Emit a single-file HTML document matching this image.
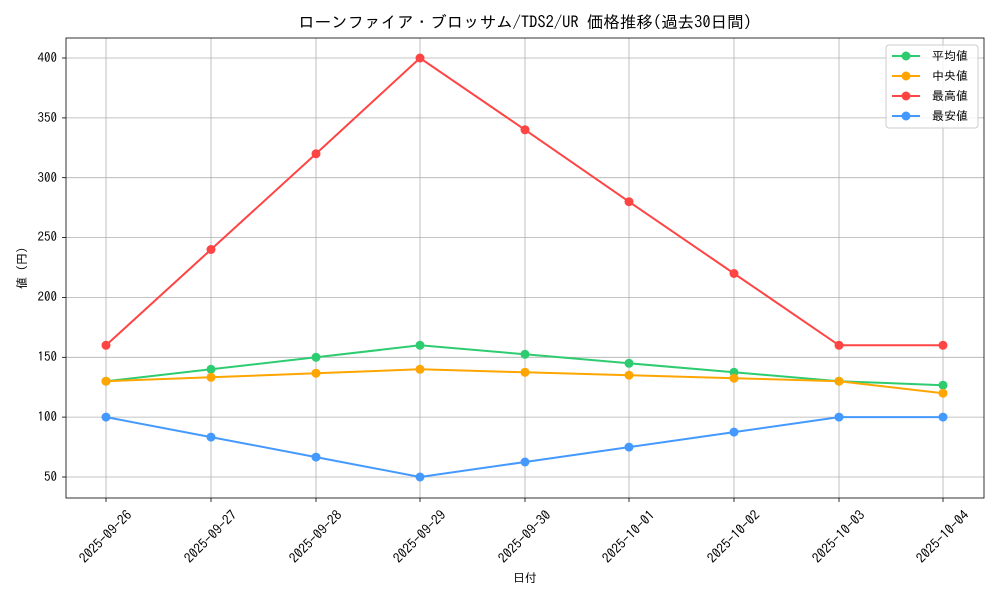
<!DOCTYPE html>
<html><head><meta charset="utf-8"><style>body{margin:0;background:#fff}svg{display:block;font-family:"IPAGothic","Liberation Sans","Noto Sans CJK JP",sans-serif}</style></head><body>
<svg width="1000" height="600" viewBox="0 0 1000 600">
<rect width="1000" height="600" fill="#fff"/>
<g stroke="#b0b0b0" stroke-width="0.8">
<line x1="106" y1="38" x2="106" y2="498"/><line x1="211" y1="38" x2="211" y2="498"/><line x1="316" y1="38" x2="316" y2="498"/><line x1="420" y1="38" x2="420" y2="498"/><line x1="525" y1="38" x2="525" y2="498"/><line x1="629" y1="38" x2="629" y2="498"/><line x1="734" y1="38" x2="734" y2="498"/><line x1="839" y1="38" x2="839" y2="498"/><line x1="943" y1="38" x2="943" y2="498"/>
<line x1="66" y1="477" x2="984" y2="477"/><line x1="66" y1="417.1" x2="984" y2="417.1"/><line x1="66" y1="357.3" x2="984" y2="357.3"/><line x1="66" y1="297.4" x2="984" y2="297.4"/><line x1="66" y1="237.6" x2="984" y2="237.6"/><line x1="66" y1="177.7" x2="984" y2="177.7"/><line x1="66" y1="117.9" x2="984" y2="117.9"/><line x1="66" y1="58" x2="984" y2="58"/>
</g>
<g stroke="#000" stroke-width="0.8">
<line x1="106" y1="498" x2="106" y2="502"/><line x1="211" y1="498" x2="211" y2="502"/><line x1="316" y1="498" x2="316" y2="502"/><line x1="420" y1="498" x2="420" y2="502"/><line x1="525" y1="498" x2="525" y2="502"/><line x1="629" y1="498" x2="629" y2="502"/><line x1="734" y1="498" x2="734" y2="502"/><line x1="839" y1="498" x2="839" y2="502"/><line x1="943" y1="498" x2="943" y2="502"/>
<line x1="62" y1="477" x2="66" y2="477"/><line x1="62" y1="417.1" x2="66" y2="417.1"/><line x1="62" y1="357.3" x2="66" y2="357.3"/><line x1="62" y1="297.4" x2="66" y2="297.4"/><line x1="62" y1="237.6" x2="66" y2="237.6"/><line x1="62" y1="177.7" x2="66" y2="177.7"/><line x1="62" y1="117.9" x2="66" y2="117.9"/><line x1="62" y1="58" x2="66" y2="58"/>
</g>
<g font-size="13" text-anchor="end" fill="#000">
<text x="57" y="481">50</text><text x="57" y="421">100</text><text x="57" y="361">150</text><text x="57" y="301">200</text><text x="57" y="241">250</text><text x="57" y="182">300</text><text x="57" y="122">350</text><text x="57" y="62">400</text>
</g>
<g font-size="13.5" text-anchor="middle" fill="#000">
<text transform="translate(106,537) rotate(-45)" y="4">2025-09-26</text>
<text transform="translate(211,537) rotate(-45)" y="4">2025-09-27</text>
<text transform="translate(316,537) rotate(-45)" y="4">2025-09-28</text>
<text transform="translate(420,537) rotate(-45)" y="4">2025-09-29</text>
<text transform="translate(525,537) rotate(-45)" y="4">2025-09-30</text>
<text transform="translate(629,537) rotate(-45)" y="4">2025-10-01</text>
<text transform="translate(734,537) rotate(-45)" y="4">2025-10-02</text>
<text transform="translate(839,537) rotate(-45)" y="4">2025-10-03</text>
<text transform="translate(943,537) rotate(-45)" y="4">2025-10-04</text>
</g>
<text x="525" y="582" font-size="12" text-anchor="middle">日付</text>
<text transform="translate(26,268) rotate(-90)" font-size="12" text-anchor="middle">値 (円)</text>
<text x="525" y="28" font-size="16.5" text-anchor="middle">ローンファイア・ブロッサム/TDS2/UR 価格推移(過去30日間)</text>
<g fill="none" stroke-width="2">
<polyline stroke="#2ecc71" points="106,381.2 211,369.3 316,357.3 420,345.3 525,354.3 629,363.3 734,372.3 839,381.2 943,385.2"/>
<polyline stroke="#ffa500" points="106,381.2 211,377.3 316,373.2 420,369.3 525,372.3 629,375.2 734,378.2 839,381.2 943,393.2"/>
<polyline stroke="#ff4444" points="106,345.3 211,249.5 316,153.8 420,58 525,129.8 629,201.7 734,273.5 839,345.3 943,345.3"/>
<polyline stroke="#4499ff" points="106,417.1 211,437.1 316,457.1 420,477 525,462 629,447.1 734,432.1 839,417.1 943,417.1"/>
</g>
<g fill="#2ecc71"><circle cx="106" cy="381.2" r="4.5"/><circle cx="211" cy="369.3" r="4.5"/><circle cx="316" cy="357.3" r="4.5"/><circle cx="420" cy="345.3" r="4.5"/><circle cx="525" cy="354.3" r="4.5"/><circle cx="629" cy="363.3" r="4.5"/><circle cx="734" cy="372.3" r="4.5"/><circle cx="839" cy="381.2" r="4.5"/><circle cx="943" cy="385.2" r="4.5"/></g>
<g fill="#ffa500"><circle cx="106" cy="381.2" r="4.5"/><circle cx="211" cy="377.3" r="4.5"/><circle cx="316" cy="373.2" r="4.5"/><circle cx="420" cy="369.3" r="4.5"/><circle cx="525" cy="372.3" r="4.5"/><circle cx="629" cy="375.2" r="4.5"/><circle cx="734" cy="378.2" r="4.5"/><circle cx="839" cy="381.2" r="4.5"/><circle cx="943" cy="393.2" r="4.5"/></g>
<g fill="#ff4444"><circle cx="106" cy="345.3" r="4.5"/><circle cx="211" cy="249.5" r="4.5"/><circle cx="316" cy="153.8" r="4.5"/><circle cx="420" cy="58" r="4.5"/><circle cx="525" cy="129.8" r="4.5"/><circle cx="629" cy="201.7" r="4.5"/><circle cx="734" cy="273.5" r="4.5"/><circle cx="839" cy="345.3" r="4.5"/><circle cx="943" cy="345.3" r="4.5"/></g>
<g fill="#4499ff"><circle cx="106" cy="417.1" r="4.5"/><circle cx="211" cy="437.1" r="4.5"/><circle cx="316" cy="457.1" r="4.5"/><circle cx="420" cy="477" r="4.5"/><circle cx="525" cy="462" r="4.5"/><circle cx="629" cy="447.1" r="4.5"/><circle cx="734" cy="432.1" r="4.5"/><circle cx="839" cy="417.1" r="4.5"/><circle cx="943" cy="417.1" r="4.5"/></g>
<rect x="66" y="38" width="918" height="460" fill="none" stroke="#000" stroke-width="0.8"/>
<rect x="886" y="45" width="92" height="83" rx="3" fill="#fff" fill-opacity="0.8" stroke="#ccc"/>
<g stroke-width="2">
<line x1="892" y1="56" x2="920" y2="56" stroke="#2ecc71"/><circle cx="906" cy="56" r="4.5" fill="#2ecc71"/>
<line x1="892" y1="76" x2="920" y2="76" stroke="#ffa500"/><circle cx="906" cy="76" r="4.5" fill="#ffa500"/>
<line x1="892" y1="96" x2="920" y2="96" stroke="#ff4444"/><circle cx="906" cy="96" r="4.5" fill="#ff4444"/>
<line x1="892" y1="116" x2="920" y2="116" stroke="#4499ff"/><circle cx="906" cy="116" r="4.5" fill="#4499ff"/>
</g>
<g font-size="12"><text x="932" y="60">平均値</text><text x="932" y="80"> 中央値</text><text x="932" y="100">最高値</text><text x="932" y="120">最安値</text></g>
</svg>
</body></html>
